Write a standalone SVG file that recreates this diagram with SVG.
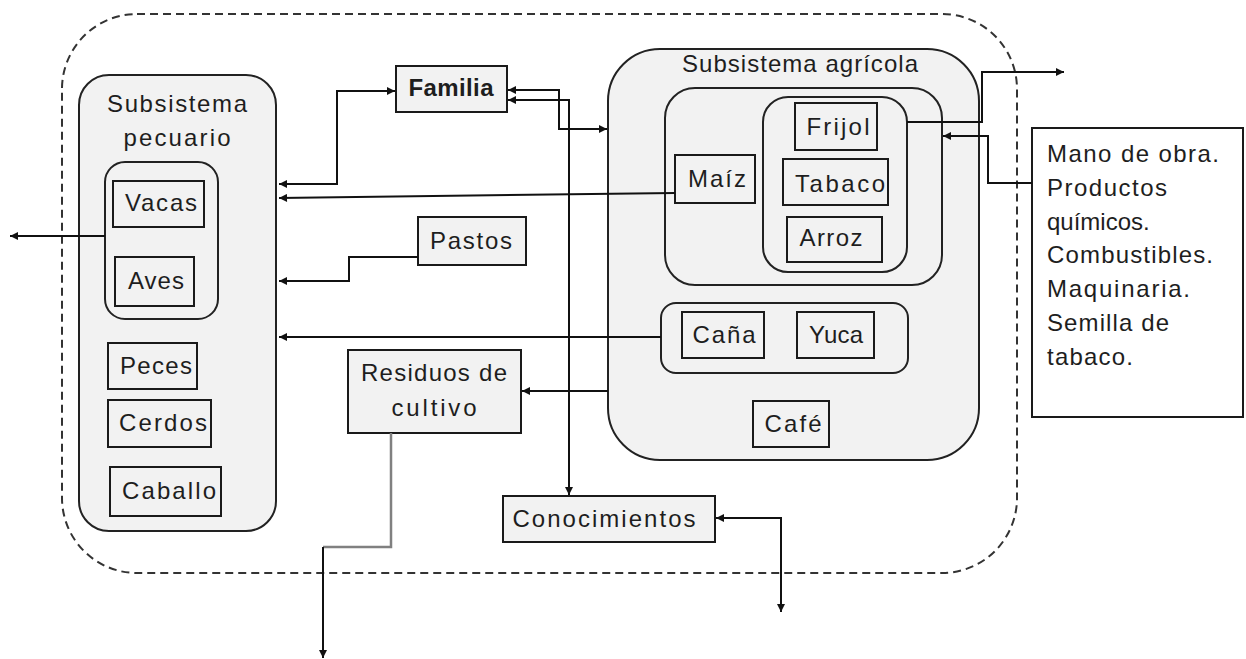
<svg xmlns="http://www.w3.org/2000/svg" width="1246" height="659" viewBox="0 0 1246 659">
<defs>
<marker id="ah" viewBox="0 0 10 10" refX="10" refY="5" markerUnits="userSpaceOnUse" markerWidth="9" markerHeight="8" orient="auto-start-reverse">
<path d="M0,0 L10,5 L0,10 z" fill="#111"/>
</marker>
<style>
.grp{fill:#f2f2f2;stroke:#222;stroke-width:2}
.box{fill:#f2f2f2;stroke:#1a1a1a;stroke-width:2}
.wbox{fill:#fff;stroke:#1a1a1a;stroke-width:2}
.t{font-family:"Liberation Sans",Arial,sans-serif;font-size:24px;fill:#1e1e1e;text-anchor:middle}
.tl{font-family:"Liberation Sans",Arial,sans-serif;font-size:24px;fill:#1e1e1e;text-anchor:start}
.b{font-weight:bold}
.c{fill:none;stroke:#111;stroke-width:2}
.g{fill:none;stroke:#808080;stroke-width:2.5}
.dash{fill:none;stroke:#333;stroke-width:2;stroke-dasharray:8 5}
</style>
</defs>
<rect width="1246" height="659" fill="#fff"/>
<g id="sistema">
<rect class="dash" x="62" y="14" width="955" height="559" rx="75" ry="75"/>
</g>
<g id="subsistema-pecuario">
<rect class="grp" x="79" y="75" width="197" height="456" rx="30"/>
<text class="t" x="177" y="112" textLength="140" lengthAdjust="spacing">Subsistema</text>
<text class="t" x="177" y="146" textLength="107" lengthAdjust="spacing">pecuario</text>
</g>
<g id="grupo-vacas-aves">
<rect class="grp" x="105" y="162" width="113" height="157" rx="20"/>
</g>
<g id="vacas"><rect class="box" x="113" y="181" width="91" height="46"/><text class="t" x="161" y="211" textLength="72" lengthAdjust="spacing">Vacas</text></g>
<g id="aves"><rect class="box" x="115" y="257" width="79" height="49"/><text class="t" x="156" y="289" textLength="56" lengthAdjust="spacing">Aves</text></g>
<g id="peces"><rect class="box" x="108" y="343" width="89" height="46"/><text class="t" x="156" y="374" textLength="72" lengthAdjust="spacing">Peces</text></g>
<g id="cerdos"><rect class="box" x="108" y="400" width="103" height="47"/><text class="t" x="163" y="431" textLength="88" lengthAdjust="spacing">Cerdos</text></g>
<g id="caballo"><rect class="box" x="110" y="467" width="111" height="49"/><text class="t" x="169" y="499" textLength="94" lengthAdjust="spacing">Caballo</text></g>
<g id="subsistema-agricola">
<rect class="grp" x="608" y="49" width="371" height="411" rx="52"/>
<text class="t" x="800" y="72" textLength="236" lengthAdjust="spacing">Subsistema agrícola</text>
</g>
<g id="grupo-maiz"><rect class="grp" x="665" y="88" width="277" height="197" rx="30"/></g>
<g id="grupo-frijol"><rect class="grp" x="763" y="97" width="144" height="175" rx="25"/></g>
<g id="frijol"><rect class="box" x="795" y="103" width="82" height="47"/><text class="t" x="838" y="135" textLength="63" lengthAdjust="spacing">Frijol</text></g>
<g id="tabaco"><rect class="box" x="783" y="159" width="105" height="46"/><text class="t" x="840" y="192" textLength="90" lengthAdjust="spacing">Tabaco</text></g>
<g id="arroz"><rect class="box" x="787" y="217" width="95" height="45"/><text class="t" x="831" y="246" textLength="63" lengthAdjust="spacing">Arroz</text></g>
<g id="maiz"><rect class="box" x="675" y="155" width="80" height="48"/><text class="t" x="717" y="187" textLength="58" lengthAdjust="spacing">Maíz</text></g>
<g id="grupo-cana-yuca"><rect class="grp" x="661" y="303" width="247" height="70" rx="15"/></g>
<g id="cana"><rect class="box" x="682" y="312" width="82" height="46"/><text class="t" x="724" y="343" textLength="63" lengthAdjust="spacing">Caña</text></g>
<g id="yuca"><rect class="box" x="797" y="312" width="77" height="46"/><text class="t" x="836" y="343" textLength="54" lengthAdjust="spacing">Yuca</text></g>
<g id="cafe"><rect class="box" x="753" y="401" width="76" height="46"/><text class="t" x="793" y="432" textLength="57" lengthAdjust="spacing">Café</text></g>
<g id="familia"><rect class="box" x="396" y="66" width="111" height="46"/><text class="t b" x="451" y="96" textLength="85" lengthAdjust="spacing">Familia</text></g>
<g id="pastos"><rect class="box" x="418" y="217" width="108" height="48"/><text class="t" x="471" y="249" textLength="82" lengthAdjust="spacing">Pastos</text></g>
<g id="residuos"><rect class="box" x="348" y="350" width="173" height="83"/><text class="t" x="434" y="381" textLength="146" lengthAdjust="spacing">Residuos de</text><text class="t" x="434" y="416" textLength="85" lengthAdjust="spacing">cultivo</text></g>
<g id="conocimientos"><rect class="box" x="503" y="496" width="212" height="46"/><text class="t" x="604" y="527" textLength="183" lengthAdjust="spacing">Conocimientos</text></g>
<g id="insumos">
<rect class="wbox" x="1032" y="128" width="211" height="289"/>
<text class="tl" x="1047" y="162" textLength="172" lengthAdjust="spacing">Mano de obra.</text>
<text class="tl" x="1047" y="196" textLength="120" lengthAdjust="spacing">Productos</text>
<text class="tl" x="1047" y="230">químicos.</text>
<text class="tl" x="1047" y="263" textLength="166" lengthAdjust="spacing">Combustibles.</text>
<text class="tl" x="1047" y="297" textLength="143" lengthAdjust="spacing">Maquinaria.</text>
<text class="tl" x="1047" y="331" textLength="122" lengthAdjust="spacing">Semilla de</text>
<text class="tl" x="1047" y="365" textLength="86" lengthAdjust="spacing">tabaco.</text>
</g>
<g id="conectores">
<polyline class="c" points="279,184 337,184 337,91 395,91" marker-start="url(#ah)" marker-end="url(#ah)"/>
<polyline class="c" points="508,90 559,90 559,129 607,129" marker-start="url(#ah)" marker-end="url(#ah)"/>
<polyline class="c" points="508,100 569,100 569,495" marker-start="url(#ah)" marker-end="url(#ah)"/>
<line class="c" x1="675" y1="193" x2="279" y2="198" marker-end="url(#ah)"/>
<polyline class="c" points="418,257 349,257 349,281 279,281" marker-end="url(#ah)"/>
<line class="c" x1="661" y1="337" x2="279" y2="337" marker-end="url(#ah)"/>
<line class="c" x1="105" y1="236" x2="10" y2="236" marker-end="url(#ah)"/>
<line class="c" x1="608" y1="391" x2="522" y2="391" marker-end="url(#ah)"/>
<polyline class="g" points="391,433 391,547 323,547"/>
<polyline class="c" points="323,547 323,658" marker-end="url(#ah)"/>
<polyline class="c" points="716,518 781,518 781,612" marker-start="url(#ah)" marker-end="url(#ah)"/>
<polyline class="c" points="907,122 982,122 982,72 1064,72" marker-end="url(#ah)"/>
<polyline class="c" points="1032,183 988,183 988,136 943,136" marker-end="url(#ah)"/>
</g>
</svg>
